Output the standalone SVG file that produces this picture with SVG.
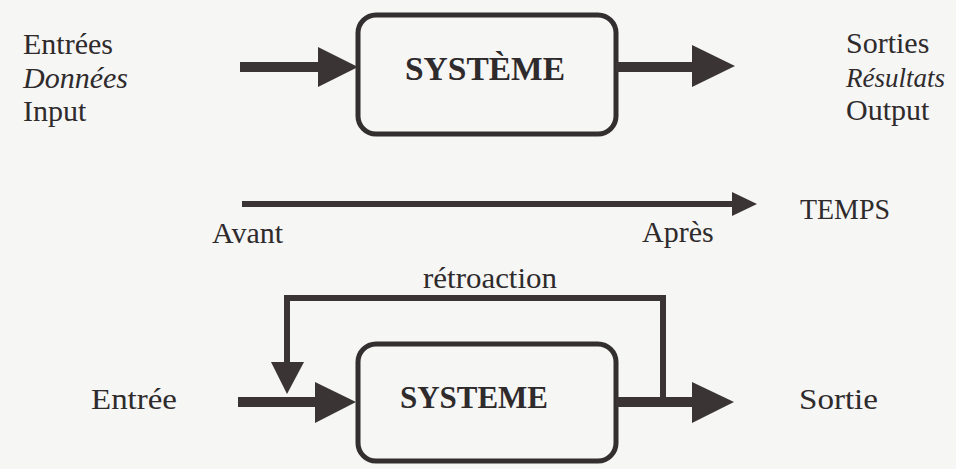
<svg xmlns="http://www.w3.org/2000/svg" width="956" height="469" viewBox="0 0 956 469">
<style>
.t{font-family:"Liberation Serif","Times New Roman",serif;font-size:30px;fill:#2f2b2c}
.i{font-style:italic}
.b{font-family:"Liberation Serif","Times New Roman",serif;font-size:33px;font-weight:bold;fill:#2f2b2c}
.box{fill:none;stroke:#332e2f;stroke-width:5}
.shaft{fill:none;stroke:#3a3435;stroke-width:10}
.thin{fill:none;stroke:#3a3435;stroke-width:6}
.head{fill:#3a3435}
</style>
<rect width="956" height="469" fill="#f6f6f5"/>
<g id="labels-top">
<text class="t" x="23" y="54">Entrées</text>
<text class="t i" x="23" y="88">Données</text>
<text class="t" x="23" y="121">Input</text>
<text class="t" x="846" y="53">Sorties</text>
<text class="t i" x="846" y="87" style="font-size:27px">Résultats</text>
<text class="t" x="846" y="120">Output</text>
</g>
<g id="systeme-top">
<rect class="box" x="358" y="15" width="258" height="119" rx="18"/>
<text class="b" x="485" y="80" text-anchor="middle" textLength="160" lengthAdjust="spacingAndGlyphs">SYSTÈME</text>
</g>
<g id="timeline-labels">
<text class="t" x="212" y="243">Avant</text>
<text class="t" x="642" y="242">Après</text>
<text class="t" x="800" y="219" textLength="90" lengthAdjust="spacingAndGlyphs">TEMPS</text>
</g>
<g id="bottom-labels">
<text class="t" x="91" y="409" textLength="86" lengthAdjust="spacingAndGlyphs">Entrée</text>
<text class="t" x="799" y="409" textLength="79" lengthAdjust="spacingAndGlyphs">Sortie</text>
<text class="t" x="423" y="288" textLength="134" lengthAdjust="spacingAndGlyphs">rétroaction</text>
</g>
<g id="systeme-bottom">
<rect class="box" x="358" y="344" width="258" height="117" rx="18"/>
<text class="b" x="474" y="408" text-anchor="middle" textLength="148" lengthAdjust="spacingAndGlyphs" style="font-size:31px">SYSTEME</text>
</g>
<g id="connectors">
<line class="shaft" x1="240" y1="67" x2="320" y2="67"/>
<polygon class="head" points="318,47 358,67 318,87"/>
<line class="shaft" x1="616" y1="67" x2="694" y2="67"/>
<polygon class="head" points="692,45 735,66 692,87"/>
<line class="thin" x1="242" y1="204" x2="734" y2="204"/>
<polygon class="head" points="732,192 757,204 732,216"/>
<line class="shaft" x1="238" y1="402" x2="317" y2="402"/>
<polygon class="head" points="315,382 356,402 315,423"/>
<line class="shaft" x1="616" y1="402" x2="694" y2="402"/>
<polygon class="head" points="692,382 734,402 692,423"/>
<polyline class="thin" points="663,402 663,298 287,298 287,364"/>
<polygon class="head" points="271,362 304,362 287,394"/>
</g>
</svg>
